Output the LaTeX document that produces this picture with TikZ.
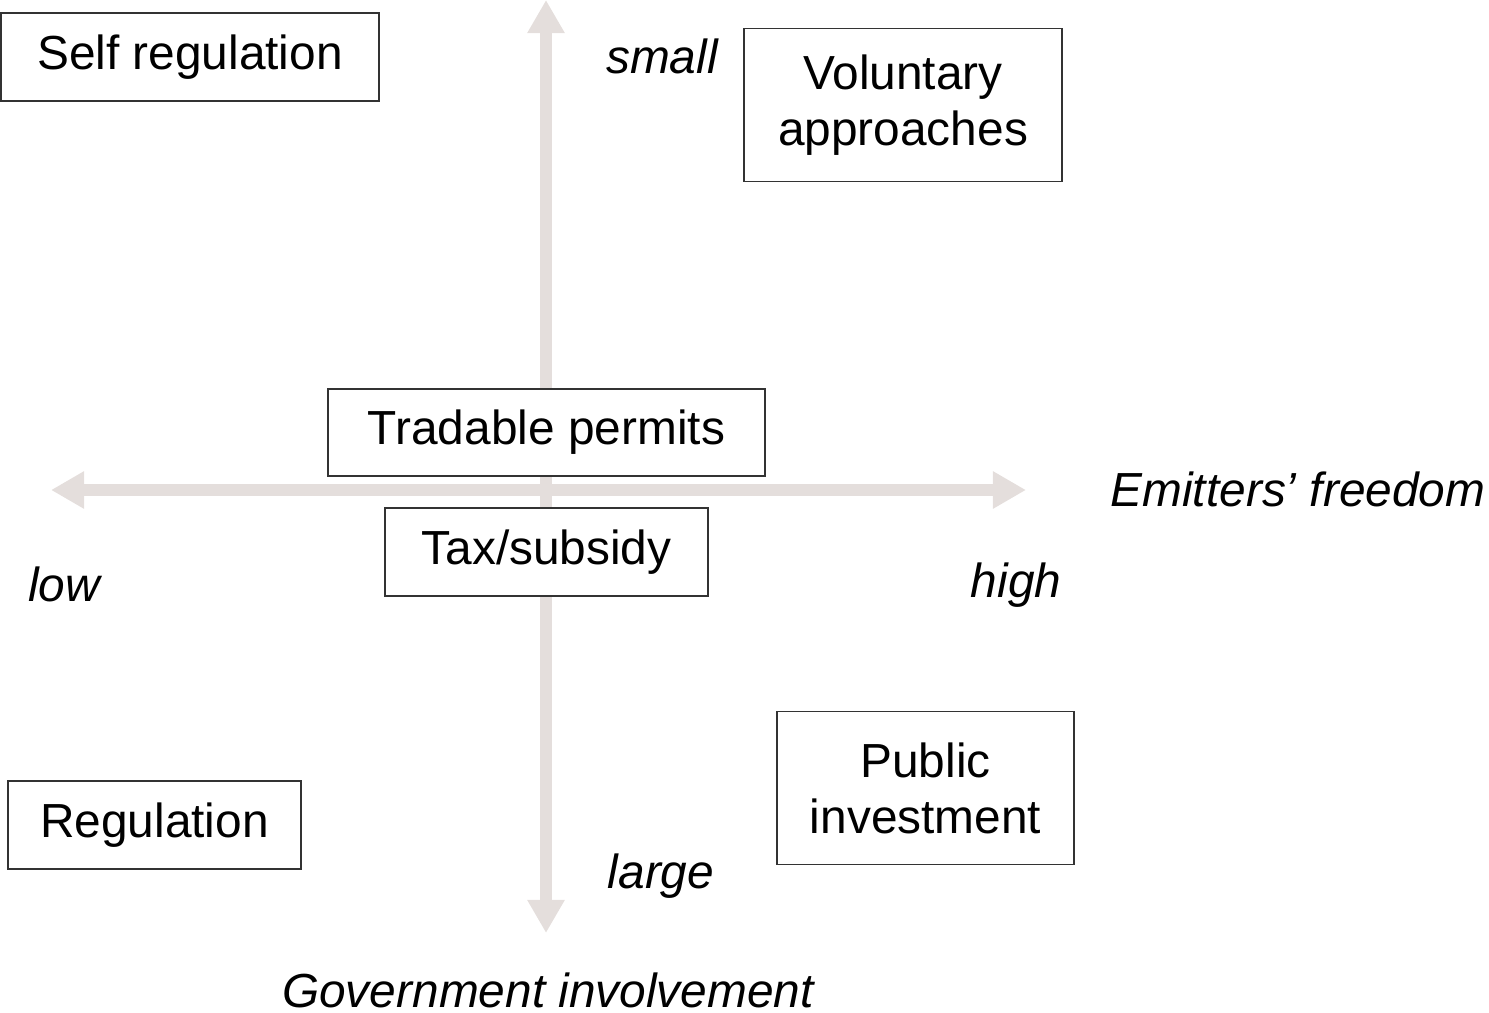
\documentclass[tikz,border=0pt]{standalone}
\usepackage{fontspec}
\setmainfont{Liberation Sans}
\usetikzlibrary{arrows.meta}
\definecolor{axisgray}{RGB}{228,222,220}

\begin{document}
\begin{tikzpicture}[x=0.01cm, y=-0.01cm,
    box/.style={draw=black!80, line width=0.45pt, fill=white, align=center,
        inner sep=0pt, font=\fontsize{13.6}{15.9}\selectfont},
    lbl/.style={inner sep=0pt, font=\fontsize{13.6}{15.9}\selectfont\itshape},
    axis/.style={line width=3.4pt, draw=axisgray,
        {Triangle[length=9.4pt,width=10pt]}-{Triangle[length=9.4pt,width=10pt]}}]
    \useasboundingbox (0,0) rectangle (1489,1013);

    % Axis end points
    \coordinate (xleft) at (51,490);
    \coordinate (xright) at (1026,490);
    \coordinate (ytop) at (546,0);
    \coordinate (ybot) at (546,933);

    % Axes
    \draw[axis] (xleft) -- (xright);
    \draw[axis] (ybot) -- (ytop);

    % Instruments
    \node[box, minimum width=3.78cm, minimum height=0.88cm] (selfreg) at (190,57) {Self regulation};
    \node[box, minimum width=3.18cm, minimum height=1.53cm] (voluntary) at (903,105) {Voluntary\\approaches};
    \node[box, minimum width=4.37cm, minimum height=0.87cm] (permits) at (546.5,432.5) {Tradable permits};
    \node[box, minimum width=3.23cm, minimum height=0.88cm] (tax) at (546.5,552) {Tax/subsidy};
    \node[box, minimum width=2.93cm, minimum height=0.88cm] (reg) at (154.5,825) {Regulation};
    \node[box, minimum width=2.97cm, minimum height=1.53cm] (public) at (925.5,788) {Public\\investment};

    % Axis labels
    \node[lbl] (small) at (662,56) {small};
    \node[lbl] (large) at (661,876) {large};
    \node[lbl] (low) at (64,584) {low};
    \node[lbl] (high) at (1016,585) {high};
    \node[lbl, anchor=east] (freedom) at (1486,489) {Emitters’ freedom};
    \node[lbl] (govt) at (548,990) {Government involvement};
\end{tikzpicture}
\end{document}
